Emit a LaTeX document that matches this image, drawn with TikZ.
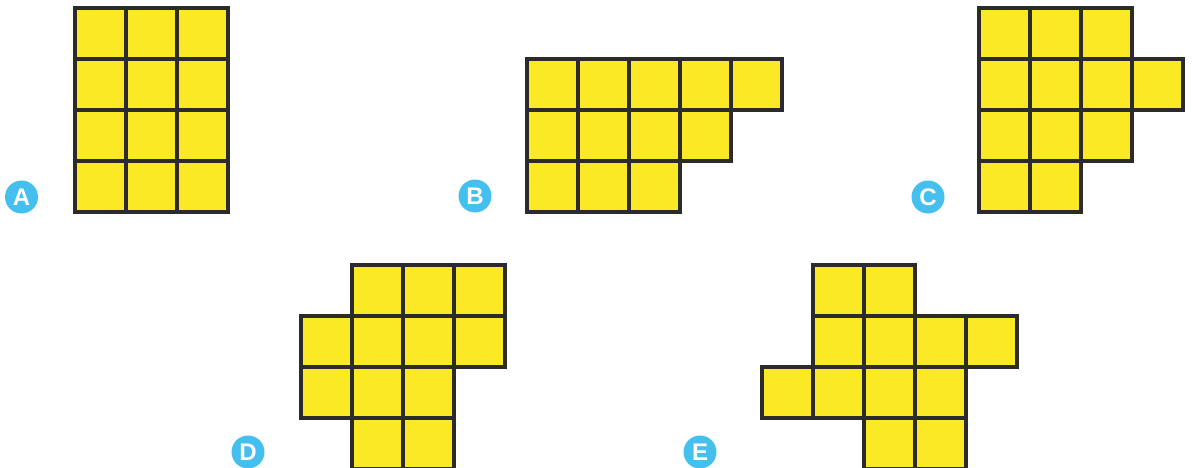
\documentclass[tikz,border=0pt]{standalone}
\usepackage{fontspec}
\newfontfamily\tagfont{Liberation Sans}
\usepackage{xcolor}
\definecolor{tileyellow}{HTML}{FCE925}
\definecolor{tileedge}{HTML}{2B2B2B}
\definecolor{tagblue}{HTML}{45BFEE}

\begin{document}
\begin{tikzpicture}[x=1pt, y=-1pt,
        cell/.style={fill=tileyellow, draw=tileedge, line width=3.6pt},
        tag/.style={circle, fill=tagblue, text=white, inner sep=0pt, minimum size=33pt,
            font=\tagfont\bfseries\fontsize{24}{24}\selectfont}]
        \useasboundingbox (0,0) rectangle (1193,468);
        % A : 3 x 4
        \foreach \r in {0,...,3}
            \foreach \c in {0,...,2}
                \draw[cell] ({75+51*\c},{8+51*\r}) rectangle ++(51,51);
        % B : rows of 5, 4, 3
        \foreach \r/\a/\b in {0/0/4, 1/0/3, 2/0/2}
            \foreach \c in {\a,...,\b}
                \draw[cell] ({527+51*\c},{59+51*\r}) rectangle ++(51,51);
        % C
        \foreach \r/\a/\b in {0/0/2, 1/0/3, 2/0/2, 3/0/1}
            \foreach \c in {\a,...,\b}
                \draw[cell] ({979+51*\c},{8+51*\r}) rectangle ++(51,51);
        % D
        \foreach \r/\a/\b in {0/1/3, 1/0/3, 2/0/2, 3/1/2}
            \foreach \c in {\a,...,\b}
                \draw[cell] ({301+51*\c},{265+51*\r}) rectangle ++(51,51);
        % E
        \foreach \r/\a/\b in {0/1/2, 1/1/4, 2/0/3, 3/2/3}
            \foreach \c in {\a,...,\b}
                \draw[cell] ({762+51*\c},{265+51*\r}) rectangle ++(51,51);
        % labels
        \node[tag] (tagA) at (21.5,197) {A};
        \node[tag] (tagB) at (475,196) {B};
        \node[tag] (tagC) at (928,197) {C};
        \node[tag] (tagD) at (248,452) {D};
        \node[tag] (tagE) at (700,452) {E};
    \end{tikzpicture}
\end{document}
